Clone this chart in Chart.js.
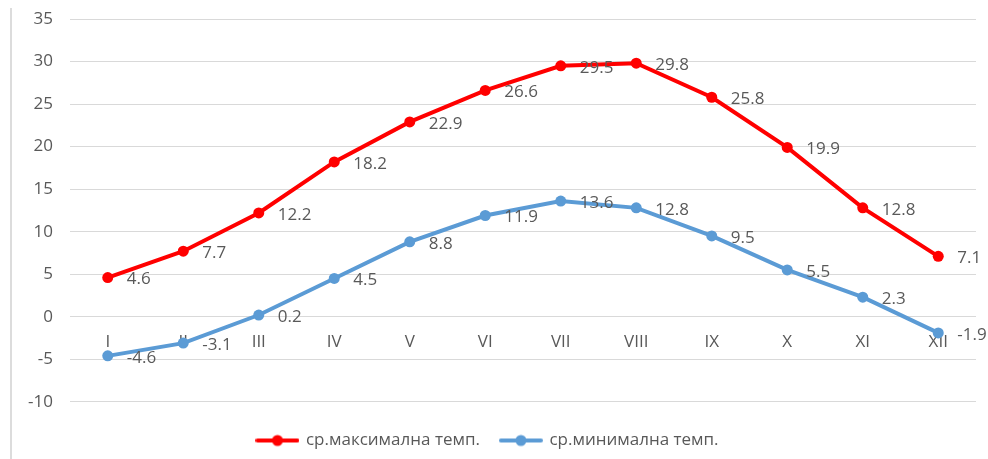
<!DOCTYPE html>
<html>
<head>
<meta charset="utf-8">
<script src="https://cdn.jsdelivr.net/npm/chart.js@4/dist/chart.umd.min.js"></script>
<style>
html, body { margin: 0; padding: 0; background: #fff; }
#wrap { position: relative; width: 988px; height: 459px; }
#edge { position: absolute; left: 10px; top: 8px; width: 2px; height: 451px; background: #dcdcdc; }
</style>
</head>
<body>
<div id="wrap">
<canvas id="chart" width="988" height="459"></canvas>
<div id="edge"></div>
</div>
<script>
// months
const months = ["I", "II", "III", "IV", "V", "VI", "VII", "VIII", "IX", "X", "XI", "XII"]

// average max / min temperature
const maxTemp = [4.6, 7.7, 12.2, 18.2, 22.9, 26.6, 29.5, 29.8, 25.8, 19.9, 12.8, 7.1]
const minTemp = [-4.6, -3.1, 0.2, 4.5, 8.8, 11.9, 13.6, 12.8, 9.5, 5.5, 2.3, -1.9]

const maxLabel = "ср.максимална темп."
const minLabel = "ср.минимална темп."

const yTicks = [-10, -5, 0, 5, 10, 15, 20, 25, 30, 35]

const RED = "#ff0000"
const BLUE = "#5b9bd5"
const TEXT = "#595959"
const FONT = "'Open Sans', 'DejaVu Sans', sans-serif"

// legend marker: line with a dot
function legendMark(color){
let c = document.createElement("canvas")
c.width = 44
c.height = 14
let g = c.getContext("2d")
g.strokeStyle = color
g.lineWidth = 4
g.lineCap = "round"
g.beginPath()
g.moveTo(2, 7)
g.lineTo(42, 7)
g.stroke()
g.fillStyle = color
g.beginPath()
g.arc(22, 7, 5.5, 0, Math.PI * 2)
g.fill()
return c
}

// simple data labels right of each point
const valueLabels = {
id: "valueLabels",
afterDatasetsDraw(chart){
let ctx = chart.ctx
ctx.save()
ctx.font = "17px " + FONT
ctx.fillStyle = TEXT
ctx.textAlign = "left"
ctx.textBaseline = "middle"
chart.data.datasets.forEach((ds, i) => {
chart.getDatasetMeta(i).data.forEach((pt, j) => {
ctx.fillText(String(ds.data[j]), pt.x + 19, pt.y + 2)
})
})
ctx.restore()
}
}

let ctx = document.getElementById("chart").getContext("2d")

window.tempChart = new Chart(ctx, {
type: "line",
data: {
labels: months,
datasets: [
{
label: maxLabel,
data: maxTemp,
borderColor: RED,
backgroundColor: RED,
borderWidth: 4,
pointRadius: 5.5,
pointBackgroundColor: RED,
pointBorderWidth: 0,
fill: false,
tension: 0
},
{
label: minLabel,
data: minTemp,
borderColor: BLUE,
backgroundColor: BLUE,
borderWidth: 4,
pointRadius: 5.5,
pointBackgroundColor: BLUE,
pointBorderWidth: 0,
fill: false,
tension: 0
}
]
},
plugins: [valueLabels],
options: {
responsive: false,
animation: false,
layout: {
padding: { left: 0, right: 12, top: 19, bottom: 0 }
},
plugins: {
tooltip: { enabled: false },
legend: {
position: "bottom",
// empty title only used as a spacer above the legend items
title: { display: true, text: "", font: { size: 1 }, padding: { top: 0, bottom: 8 } },
labels: {
usePointStyle: true,
pointStyleWidth: 40,
color: TEXT,
font: { size: 17, family: FONT },
padding: 21,
generateLabels(chart){
return chart.data.datasets.map((ds, i) => ({
text: ds.label,
fontColor: TEXT,
pointStyle: legendMark(ds.borderColor),
datasetIndex: i,
lineWidth: 0,
strokeStyle: "transparent",
fillStyle: ds.borderColor
}))
}
}
}
},
scales: {
x: {
position: { y: 0 },
offset: true,
grid: { display: false, drawTicks: false, offset: true },
border: { display: false },
ticks: {
color: TEXT,
font: { size: 17, family: FONT },
padding: 15
}
},
y: {
min: -10,
max: 35,
afterBuildTicks(scale){
scale.ticks = yTicks.map(v => ({ value: v }))
},
afterFit(scale){
scale.width = 70
scale.paddingTop = 0
scale.paddingBottom = 0
},
grid: { color: "#d9d9d9", lineWidth: 1, drawTicks: false },
border: { display: false },
ticks: {
color: TEXT,
font: { size: 17, family: FONT },
padding: 17
}
}
}
}
})
</script>
</body>
</html>
